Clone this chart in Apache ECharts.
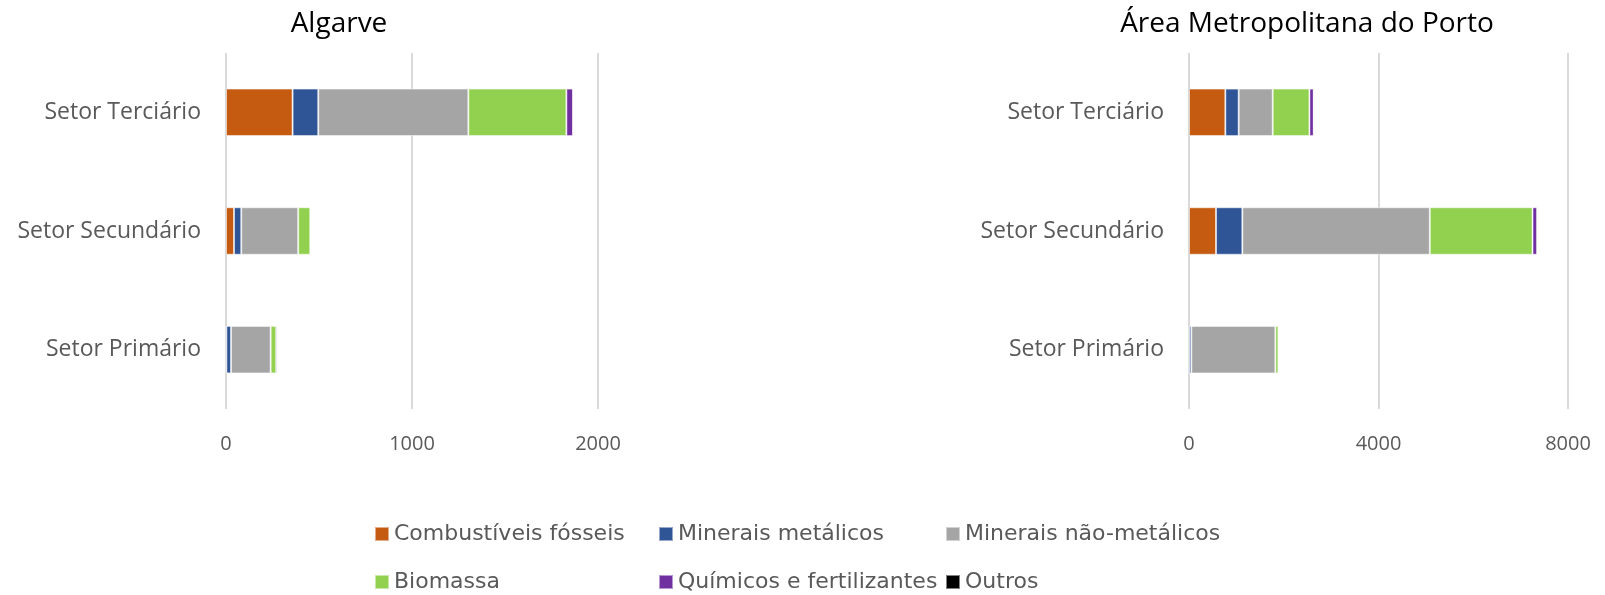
<!DOCTYPE html>
<html lang="pt">
<head>
<meta charset="UTF-8">
<title>Algarve / AMP</title>
<script src="https://cdn.jsdelivr.net/npm/echarts@6/dist/echarts.min.js"></script>
<style>
  html, body { margin: 0; height: 100%; background: #fff; }
  #container { width: 1605px; height: 595px; }
</style>
</head>
<body>
<div id="container"></div>
<script>
// categories, bottom to top like the picture
const sectors = ['Setor Primário', 'Setor Secundário', 'Setor Terciário'];
const seriesNames = ['Combustíveis fósseis', 'Minerais metálicos', 'Minerais não-metálicos',
                     'Biomassa', 'Químicos e fertilizantes', 'Outros'];
const colors = ['#c55a11', '#2f5597', '#a5a5a5', '#92d050', '#7030a0', '#000000'];

// Algarve (Primário, Secundário, Terciário)
const algFosseis   = [2, 43, 358];
const algMetalicos = [25, 39, 138];
const algNaoMetal  = [213, 306, 807];
const algBiomassa  = [30, 65, 527];
const algQuimicos  = [7, 3, 36];
const algOutros    = [0, 0, 0];

// Área Metropolitana do Porto
const ampFosseis   = [5, 570, 767];
const ampMetalicos = [44, 556, 282];
const ampNaoMetal  = [1774, 3957, 718];
const ampBiomassa  = [64, 2168, 775];
const ampQuimicos  = [21, 99, 91];
const ampOutros    = [0, 0, 0];

const algData = [algFosseis, algMetalicos, algNaoMetal, algBiomassa, algQuimicos, algOutros];
const ampData = [ampFosseis, ampMetalicos, ampNaoMetal, ampBiomassa, ampQuimicos, ampOutros];

const fontFamily = 'Open Sans';
const txt = '#595959';

function xAxis(idx, max, interval) {
  return {
    type: 'value', gridIndex: idx, min: 0, max: max, interval: interval,
    axisLine: { show: false }, axisTick: { show: false },
    splitLine: { lineStyle: { color: '#d9d9d9', width: 2 } },
    axisLabel: { color: txt, fontSize: 20, fontFamily: fontFamily, margin: 25,
                 formatter: function (v) { return String(v); } }
  };
}
function yAxis(idx) {
  return {
    type: 'category', gridIndex: idx, data: sectors,
    axisLine: { show: false }, axisTick: { show: false },
    axisLabel: { color: txt, fontSize: 23, fontFamily: fontFamily, margin: 25 }
  };
}

let series = [];
[algData, ampData].forEach(function (set, g) {
  set.forEach(function (vals, i) {
    series.push({
      type: 'bar', name: seriesNames[i], stack: 'r' + g,
      xAxisIndex: g, yAxisIndex: g, data: vals,
      barCategoryGap: '60%',
      itemStyle: { color: colors[i], borderColor: 'rgba(255,255,255,0.5)', borderWidth: 1 },
      emphasis: { disabled: true }
    });
  });
});

// legend placed item by item, like the two-row legend in the picture
const legendPos = [[369, 518], [653, 518], [940, 518], [369, 566], [653, 566], [940, 566]];
const legends = seriesNames.map(function (n, i) {
  return {
    data: [n], left: legendPos[i][0], top: legendPos[i][1],
    itemWidth: 14, itemHeight: 14, icon: 'rect', itemGap: 5,
    textStyle: { color: txt, fontSize: 22, fontFamily: 'DejaVu Sans' }
  };
});

const chart = echarts.init(document.getElementById('container'));
chart.setOption({
  animation: false,
  title: [
    { text: 'Algarve', left: 334, top: 5, textAlign: 'center',
      textStyle: { color: '#000', fontSize: 28, fontWeight: 'normal', fontFamily: fontFamily } },
    { text: 'Área Metropolitana do Porto', left: 1302, top: 5, textAlign: 'center',
      textStyle: { color: '#000', fontSize: 28, fontWeight: 'normal', fontFamily: fontFamily } }
  ],
  grid: [
    { left: 226, width: 372, top: 53, height: 356 },
    { left: 1189, width: 379, top: 53, height: 356 }
  ],
  xAxis: [xAxis(0, 2000, 1000), xAxis(1, 8000, 4000)],
  yAxis: [yAxis(0), yAxis(1)],
  legend: legends,
  series: series
});
</script>
</body>
</html>
